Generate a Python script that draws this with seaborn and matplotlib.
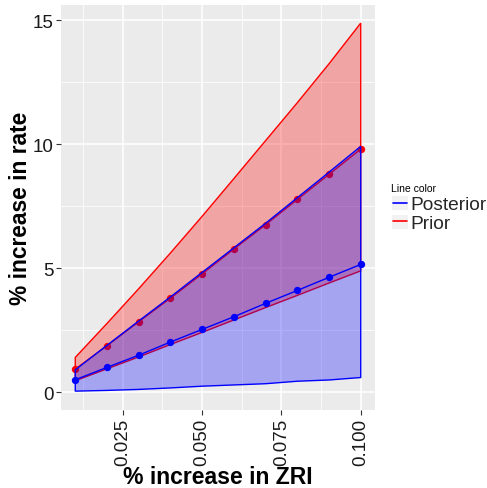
import numpy as np
import pandas as pd
import matplotlib
matplotlib.use("Agg")
import matplotlib.pyplot as plt
import seaborn as sns
from matplotlib.legend_handler import HandlerBase
from matplotlib.patches import Rectangle
from matplotlib.lines import Line2D

# ---- data ----
zri = [0.01, 0.02, 0.03, 0.04, 0.05, 0.06, 0.07, 0.08, 0.09, 0.10]
prior_low = [0.47, 0.95, 1.43, 1.93, 2.42, 2.92, 3.42, 3.91, 4.41, 4.90]
prior_mid = [0.94, 1.88, 2.85, 3.80, 4.78, 5.78, 6.76, 7.78, 8.79, 9.81]
prior_high = [1.41, 2.78, 4.18, 5.62, 7.10, 8.62, 10.15, 11.68, 13.25, 14.89]
post_low = [0.05, 0.08, 0.12, 0.18, 0.25, 0.30, 0.35, 0.45, 0.50, 0.60]
post_mid = [0.51, 1.01, 1.50, 2.03, 2.54, 3.05, 3.59, 4.11, 4.64, 5.16]
post_high = [0.91, 1.90, 2.88, 3.85, 4.84, 5.83, 6.82, 7.85, 8.88, 9.92]
series_names = ["Posterior", "Prior"]
series_colors = {"Posterior": "blue", "Prior": "red"}
x_ticks = [0.025, 0.050, 0.075, 0.100]
x_ticklabels = ["0.025", "0.050", "0.075", "0.100"]
y_ticks = [0, 5, 10, 15]

df = pd.DataFrame({
    "zri": zri * 2,
    "low": prior_low + post_low,
    "mid": prior_mid + post_mid,
    "high": prior_high + post_high,
    "series": ["Prior"] * len(zri) + ["Posterior"] * len(zri),
})

sns.set_theme(style="darkgrid")
plt.rcParams["font.family"] = ["Liberation Sans", "DejaVu Sans"]

fig = plt.figure(figsize=(4.87, 4.89), dpi=100)
W, H = 487, 489
ax = fig.add_axes([61 / W, 1 - 411 / H, 314 / W, 405 / H])
ax.set_facecolor("#EBEBEB")

z = 2.0
for name in ["Prior", "Posterior"]:
    d = df[df["series"] == name]
    col = series_colors[name]
    xs = np.r_[d["zri"].values, d["zri"].values[::-1]]
    ys = np.r_[d["high"].values, d["low"].values[::-1]]
    rgba = matplotlib.colors.to_rgba(col, 0.3)
    ax.fill(xs, ys, facecolor=rgba, edgecolor=col, linewidth=1.0, zorder=z)
    sns.lineplot(data=d, x="zri", y="mid", color=col, linewidth=1.0, ax=ax,
                 zorder=z + 0.1, legend=False)
    sns.scatterplot(data=d, x="zri", y="mid", color=col, s=28, linewidth=0,
                    ax=ax, zorder=z + 0.2, legend=False)
    z += 1.0

ax.set_xlim(0.0055, 0.1045)
ax.set_ylim(-0.71, 15.62)
ax.set_xticks(x_ticks)
ax.set_xticklabels(x_ticklabels, rotation=90)
ax.set_yticks(y_ticks)
ax.set_xticks([0.0125, 0.0375, 0.0625, 0.0875], minor=True)
ax.set_yticks([2.5, 7.5, 12.5], minor=True)
ax.grid(which="major", color="white", linewidth=1.1)
ax.grid(which="minor", color="white", linewidth=0.55)
ax.set_axisbelow(True)
for s in ax.spines.values():
    s.set_visible(False)
ax.tick_params(which="major", length=3.5, width=0.8, color="#333333",
               labelsize=13.5, labelcolor="#1a1a1a", pad=2, bottom=True, left=True)
ax.tick_params(which="minor", length=0)

ax.set_xlabel("% increase in ZRI", fontsize=16.6, fontweight="bold", color="black")
ax.set_ylabel("% increase in rate", fontsize=16.4, fontweight="bold", color="black")
ax.xaxis.set_label_coords((218 - 61) / 314, (411 - 478) / 405)
ax.xaxis.label.set_va("center")
ax.yaxis.set_label_coords((21 - 61) / 314, 0.5)
ax.yaxis.label.set_va("center")


class KeyHandler(HandlerBase):
    def create_artists(self, legend, orig_handle, xdescent, ydescent,
                       width, height, fontsize, trans):
        r = Rectangle((-xdescent, -ydescent), width, height,
                      facecolor="#F2F2F2", edgecolor="white", lw=0.6,
                      transform=trans)
        yc = -ydescent + height / 2
        ln = Line2D([-xdescent + width * 0.1, -xdescent + width * 0.9], [yc, yc],
                    color=orig_handle.get_color(), lw=1.2, transform=trans)
        return [r, ln]


handles = [Line2D([], [], color=series_colors[n]) for n in series_names]
leg = ax.legend(handles, series_names,
                loc="upper left", bbox_to_anchor=(391 / W, 1 - 196 / H),
                bbox_transform=fig.transFigure, frameon=False,
                fontsize=13.8, handlelength=0.9, handleheight=0.85,
                handletextpad=0.12, labelspacing=0.03, borderpad=0,
                borderaxespad=0, handler_map={Line2D: KeyHandler()})
fig.text(391 / W, 1 - 189 / H, "Line color", fontsize=7.5, ha="left",
         va="center", color="black")

fig.savefig("out.png", dpi=100, facecolor="white")
